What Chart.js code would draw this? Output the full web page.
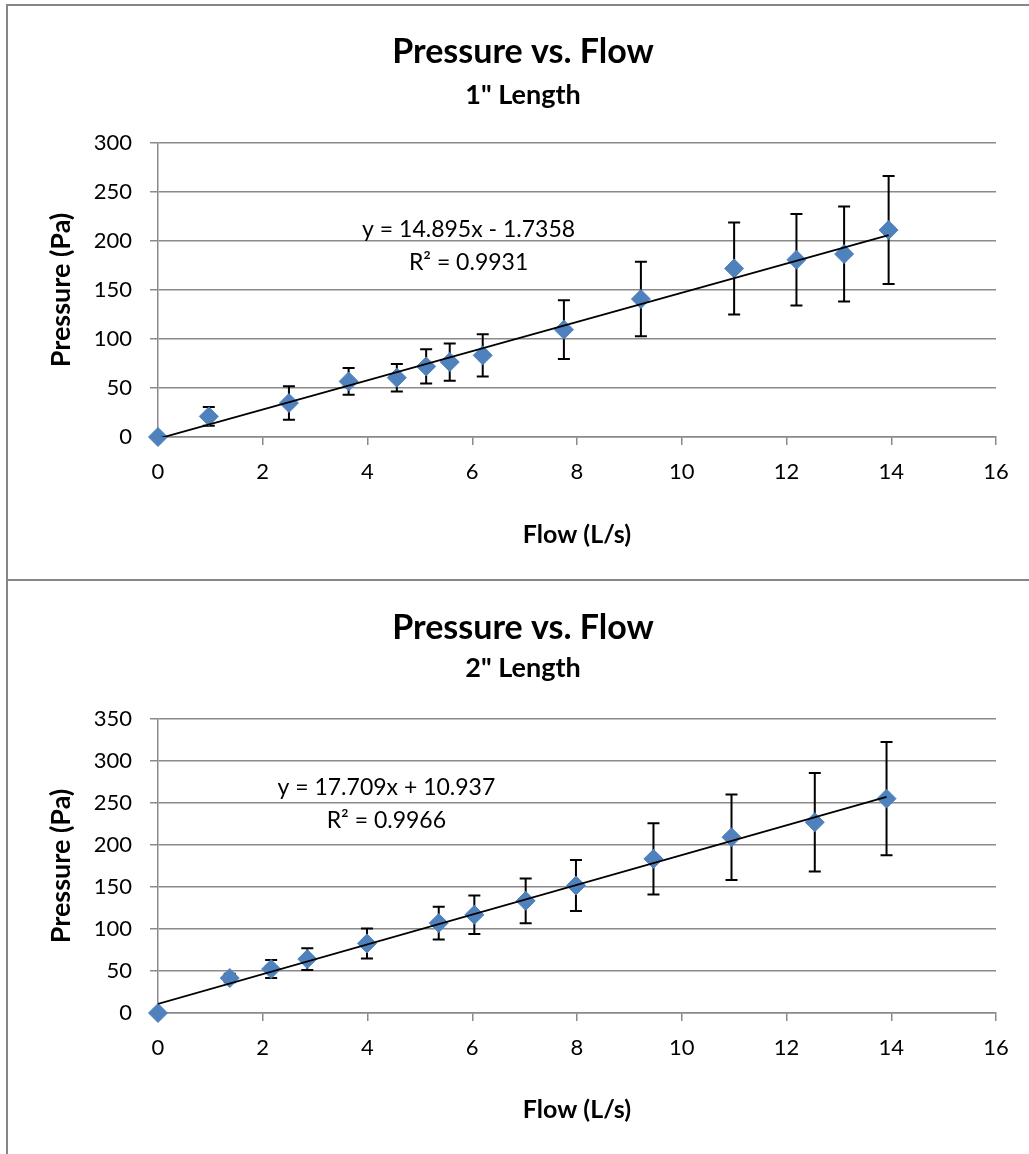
<!DOCTYPE html>
<html>
<head>
<meta charset="utf-8">
<script src="https://cdn.jsdelivr.net/npm/chart.js@4.4.1/dist/chart.umd.min.js"></script>
<style>
    body { margin: 0; background: #fff; width: 1029px; height: 1154px; position: relative; overflow: hidden; }
    canvas { position: absolute; left: 0; }
    #chart1 { top: 0; }
    #chart2 { top: 580px; }
    .frame { position: absolute; background: #868686; }
</style>
</head>
<body>
<canvas id="chart1" width="1029" height="580"></canvas>
<canvas id="chart2" width="1029" height="574"></canvas>
<div class="frame" style="left:6px;top:4px;width:1023px;height:2px"></div>
<div class="frame" style="left:6px;top:4px;width:2px;height:1150px"></div>
<div class="frame" style="left:6px;top:579px;width:1023px;height:2px"></div>
<script>
// 1" length
const flow1 = [0, 0.97, 2.5, 3.64, 4.56, 5.12, 5.57, 6.2, 7.75, 9.22, 11.0, 12.19, 13.1, 13.95];
const pressure1 = [0, 21, 34.7, 56.7, 60.5, 72, 76.5, 83.3, 109.5, 140.8, 172, 180.9, 186.7, 211.2];
const error1 = [0, 9.5, 17, 13.6, 14, 17.5, 19, 21.5, 30, 38, 47, 46.7, 48.5, 55];
const fit1 = [14.895, -1.7358];
const fitText1 = ['y = 14.895x - 1.7358', 'R\u00B2 = 0.9931'];
const fitLabelAt1 = [5.93, 211.5];
const yTicks1 = [0, 300, 50];

// 2" length
const flow2 = [0, 1.37, 2.16, 2.85, 3.99, 5.36, 6.04, 7.02, 7.98, 9.46, 10.95, 12.54, 13.91];
const pressure2 = [0, 41.6, 52.3, 64.2, 82.8, 107, 116.9, 133.5, 151.7, 183.5, 209.2, 227.1, 255.2];
const error2 = [0, 5, 10.7, 13, 17.8, 19.5, 23, 26.6, 30.3, 42.4, 51, 58.7, 67.4];
const fit2 = [17.709, 10.937];
const fitText2 = ['y = 17.709x + 10.937', 'R\u00B2 = 0.9966'];
const fitLabelAt2 = [4.36, 268.7];
const yTicks2 = [0, 350, 50];

const xTicks = [0, 16, 2];

Chart.defaults.font.family = 'Lato, "Open Sans", sans-serif';
Chart.defaults.color = '#000';

const GRID = '#8a8a8a';

// error bars drawn under the markers
const errorBars = {
    id: 'errorBars',
    beforeDatasetsDraw(chart) {
        const ds = chart.data.datasets[1];
        const {ctx, scales: {x, y}} = chart;
        ctx.save();
        ctx.strokeStyle = '#000';
        ctx.lineWidth = 2;
        ds.data.forEach((p, i) => {
            const e = ds.errors[i];
            if (!e) return;
            const px = x.getPixelForValue(p.x);
            const top = y.getPixelForValue(p.y + e);
            const bot = y.getPixelForValue(p.y - e);
            ctx.beginPath();
            ctx.moveTo(px, top); ctx.lineTo(px, bot);
            ctx.moveTo(px - 6, top); ctx.lineTo(px + 6, top);
            ctx.moveTo(px - 6, bot); ctx.lineTo(px + 6, bot);
            ctx.stroke();
        });
        ctx.restore();
    }
};

// trendline equation text
const fitLabel = {
    id: 'fitLabel',
    afterDatasetsDraw(chart) {
        const ds = chart.data.datasets[0];
        const {ctx, scales: {x, y}} = chart;
        const cx = x.getPixelForValue(ds.labelAt[0]);
        const cy = y.getPixelForValue(ds.labelAt[1]);
        ctx.save();
        ctx.fillStyle = '#000';
        ctx.font = '23px Lato, "Open Sans", sans-serif';
        ctx.textAlign = 'center';
        ctx.textBaseline = 'middle';
        ds.labelText.forEach((t, i) => ctx.fillText(t, cx, cy + i * 33));
        ctx.restore();
    }
};

function makeChart(id, cfg) {
    const last = cfg.flow[cfg.flow.length - 1];
    const points = cfg.flow.map((f, i) => ({x: f, y: cfg.pressure[i]}));
    return new Chart(document.getElementById(id), {
        type: 'scatter',
        data: {
            datasets: [{
                label: 'Linear',
                data: [{x: 0, y: cfg.fit[1]}, {x: last, y: cfg.fit[0] * last + cfg.fit[1]}],
                showLine: true,
                borderColor: '#000',
                borderWidth: 1.8,
                pointRadius: 0,
                labelAt: cfg.labelAt,
                labelText: cfg.labelText
            }, {
                label: 'Pressure',
                data: points,
                errors: cfg.error,
                pointStyle: 'rectRot',
                pointRadius: 9.5,
                backgroundColor: '#4F81BD',
                borderColor: '#4F81BD',
                borderWidth: 1,
                clip: false
            }]
        },
        options: {
            responsive: false,
            animation: false,
            layout: { padding: { left: 50, right: 33, top: 0, bottom: 0 } },
            plugins: {
                legend: { display: false },
                tooltip: { enabled: false },
                title: {
                    display: true,
                    text: 'Pressure vs. Flow',
                    font: { size: 34, weight: 'bold', lineHeight: 1.2 },
                    padding: { top: cfg.titleTop, bottom: 0 }
                },
                subtitle: {
                    display: true,
                    text: cfg.subtitle,
                    color: '#000',
                    font: { size: 27, weight: 'bold', lineHeight: 1.2 },
                    padding: { top: cfg.subTop, bottom: cfg.subBottom }
                }
            },
            scales: {
                x: {
                    type: 'linear',
                    min: xTicks[0], max: xTicks[1],
                    ticks: { stepSize: xTicks[2], font: { size: 22 }, padding: 14 },
                    grid: { drawOnChartArea: false, drawTicks: true, tickLength: 8, color: GRID, lineWidth: 1.5 },
                    border: { color: GRID, width: 1.5 },
                    title: {
                        display: true, text: 'Flow (L/s)',
                        font: { size: 25, weight: 'bold', lineHeight: 1.2 },
                        padding: { top: 0, bottom: cfg.xTitleBottom }
                    },
                    afterFit: s => { s.height = cfg.xHeight; }
                },
                y: {
                    min: cfg.yTicks[0], max: cfg.yTicks[1],
                    ticks: { stepSize: cfg.yTicks[2], font: { size: 22 }, padding: 18 },
                    grid: { color: GRID, lineWidth: 1.5, tickLength: 8 },
                    border: { color: GRID, width: 1.5 },
                    title: {
                        display: true, text: 'Pressure (Pa)',
                        font: { size: 27, weight: 'bold', lineHeight: 0.8 },
                        padding: 0
                    },
                    afterFit: s => { s.width = 108; }
                }
            }
        },
        plugins: [errorBars, fitLabel]
    });
}

makeChart('chart1', {
    flow: flow1, pressure: pressure1, error: error1, fit: fit1,
    labelAt: fitLabelAt1, labelText: fitText1, yTicks: yTicks1,
    subtitle: '1" Length',
    titleTop: 31.6, subTop: 6.4, subBottom: 31.8, xTitleBottom: 30, xHeight: 143
});

makeChart('chart2', {
    flow: flow2, pressure: pressure2, error: error2, fit: fit2,
    labelAt: fitLabelAt2, labelText: fitText2, yTicks: yTicks2,
    subtitle: '2" Length',
    titleTop: 27.6, subTop: 3.4, subBottom: 34.8, xTitleBottom: 29, xHeight: 141
});
</script>
</body>
</html>
